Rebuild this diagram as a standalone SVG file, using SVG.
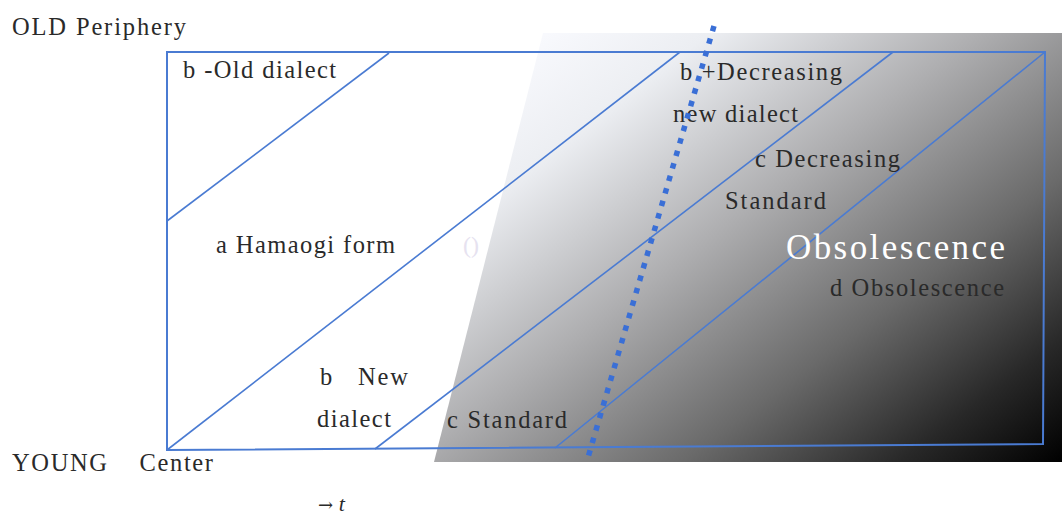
<svg xmlns="http://www.w3.org/2000/svg" width="1062" height="514" viewBox="0 0 1062 514">
  <style>
    .t { font-family: "Liberation Serif", "DejaVu Serif", serif; font-size: 24.5px; fill: #2a2a2a; }
    .ln { stroke: #4a7bd2; stroke-width: 1.6; fill: none; }
    .frame { stroke: #4a7bd2; stroke-width: 2; fill: none; }
    .dots { stroke: #3a6fd6; stroke-width: 5.5; stroke-dasharray: 5.5 7.5; fill: none; }
  </style>
  <defs>
    <linearGradient id="shade" gradientUnits="userSpaceOnUse" x1="545" y1="35" x2="936" y2="557">
      <stop offset="0" stop-color="#f8f9fd"/>
      <stop offset="0.15" stop-color="#eceef2"/>
      <stop offset="0.4" stop-color="#aeaeb0"/>
      <stop offset="0.65" stop-color="#6a6a6a"/>
      <stop offset="0.85" stop-color="#282828"/>
      <stop offset="1" stop-color="#000000"/>
    </linearGradient>
  </defs>
  <rect width="1062" height="514" fill="#ffffff"/>
  <g id="obsolescence-area">
    <polygon points="543,33 1062,33 1062,462 434,462" fill="url(#shade)"/>
  </g>
  <g id="connectors">
    <path class="frame" d="M167,52 L1045,52 L1043,444 L167,450 Z"/>
    <line class="ln" x1="167" y1="221" x2="389" y2="53"/>
    <line class="ln" x1="167" y1="450" x2="680" y2="52"/>
    <line class="ln" x1="375" y1="449" x2="893" y2="52"/>
    <line class="ln" x1="555" y1="448" x2="1045" y2="52"/>
  </g>
  <g id="axis-labels">
    <text class="t" x="12" y="35" textLength="174" lengthAdjust="spacing">OLD Periphery</text>
    <text class="t" x="12" y="471" textLength="201" lengthAdjust="spacing" xml:space="preserve">YOUNG    Center</text>
    <text x="318" y="511" font-family="DejaVu Serif, serif" font-size="18" fill="#2a2a2a" xml:space="preserve">→ <tspan font-family="Liberation Serif, serif" font-size="22" font-style="italic">t</tspan></text>
  </g>
  <g id="node-old-dialect">
    <text class="t" x="183" y="78" textLength="153" lengthAdjust="spacing">b -Old dialect</text>
  </g>
  <g id="node-hamaogi">
    <text class="t" x="216" y="253" textLength="179" lengthAdjust="spacing">a Hamaogi form</text>
    <text x="463" y="253" font-family="Liberation Serif, serif" font-size="24" fill="#e6e2f0">()</text>
  </g>
  <g id="node-new-dialect">
    <text class="t" x="320" y="385" textLength="88" lengthAdjust="spacing" xml:space="preserve">b   New</text>
    <text class="t" x="317" y="427" textLength="74" lengthAdjust="spacing">dialect</text>
  </g>
  <g id="node-standard">
    <text class="t" x="447" y="428" textLength="120" lengthAdjust="spacing">c Standard</text>
  </g>
  <g id="node-decreasing-new">
    <text class="t" x="680" y="80" textLength="162" lengthAdjust="spacing">b +Decreasing</text>
    <text class="t" x="673" y="122" textLength="125" lengthAdjust="spacing">new dialect</text>
  </g>
  <g id="node-decreasing-standard">
    <text class="t" x="755" y="167" textLength="145" lengthAdjust="spacing">c Decreasing</text>
    <text class="t" x="725" y="209" textLength="101" lengthAdjust="spacing">Standard</text>
  </g>
  <g id="node-obsolescence">
    <text x="786" y="259" font-family="Liberation Serif, serif" font-size="35" fill="#ffffff" textLength="219" lengthAdjust="spacing">Obsolescence</text>
    <text class="t" x="830" y="296" textLength="174" lengthAdjust="spacing">d Obsolescence</text>
  </g>
  <g id="connector-boundary">
    <line class="dots" x1="714" y1="26" x2="587" y2="461"/>
  </g>
</svg>
